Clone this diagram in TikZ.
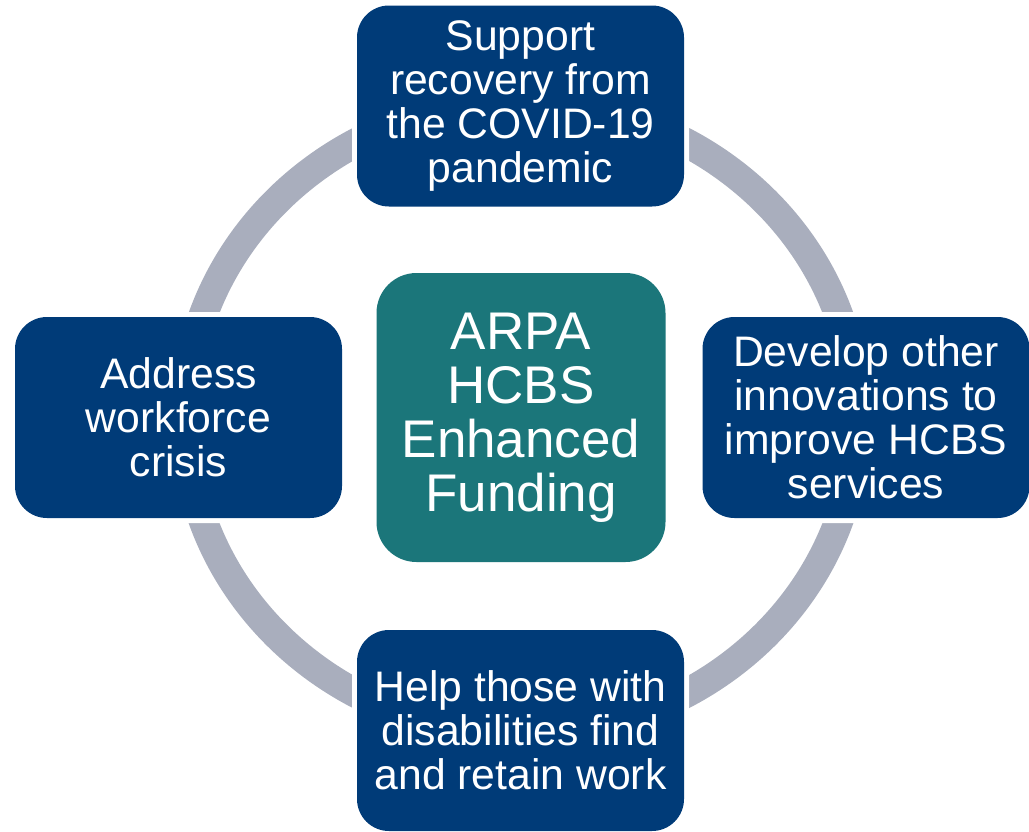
\documentclass[tikz,border=0pt]{standalone}
\usepackage{fontspec}
\setmainfont{Liberation Sans}
\definecolor{navy}{RGB}{0,59,120}
\definecolor{teal}{RGB}{27,118,122}
\definecolor{ringgray}{RGB}{169,174,189}
\begin{document}
\begin{tikzpicture}[x=1pt,y=-1pt,
    goalbox/.style={fill=navy, text=white, rounded corners=32pt, inner sep=0pt,
      preaction={draw=white, line width=10pt},
      minimum width=327pt, minimum height=201pt, align=center,
      font=\fontsize{42.7}{44}\selectfont},
    hubbox/.style={goalbox, fill=teal, rounded corners=40pt,
      minimum width=289pt, minimum height=289pt,
      font=\fontsize{53}{54}\selectfont},
    ring/.style={draw=ringgray, line width=29pt}]
    \useasboundingbox (0,0) rectangle (1029,831);
    \draw [ring] (521,418) ellipse [x radius=336pt, y radius=316pt];
    \node [goalbox] (recovery) at (520.5,106) {Support\\recovery from\\the COVID-19\\pandemic};
    \node [goalbox] (workforce) at (178.5,417.5) {Address\\workforce\\crisis};
    \node [goalbox] (innovate) at (866,417.5) {Develop other\\innovations to\\improve HCBS\\services};
    \node [goalbox] (work) at (520.5,730.5) {Help those with\\disabilities find\\and retain work};
    \node [hubbox] (hub) at (521,417.5) {ARPA\\HCBS\\Enhanced\\Funding};
\end{tikzpicture}
\end{document}
